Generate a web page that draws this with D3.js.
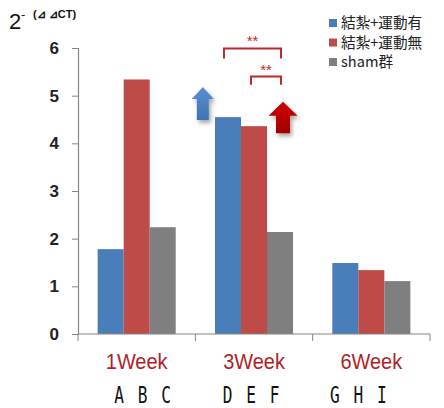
<!DOCTYPE html>
<html><head><meta charset="utf-8">
<script src="https://cdn.jsdelivr.net/npm/d3@7"></script>
<style>body{margin:0;background:#fff}svg{display:block}</style>
</head><body><svg id="c" width="444" height="408"></svg>
<script>
const categories = ["1Week", "3Week", "6Week"];
const seriesNames = ["結紮+運動有", "結紮+運動無", "sham群"];
const seriesColors = ["#4a7ebb", "#be4b48", "#7f7f7f"];
const blueVals = [1.78, 4.55, 1.49];
const redVals  = [5.34, 4.36, 1.34];
const grayVals = [2.24, 2.14, 1.11];
const barLetters = [["A","B","C"],["D","E","F"],["G","H","I"]];
const yTicks = [0, 1, 2, 3, 4, 5, 6];

const series = [blueVals, redVals, grayVals];
const svg = d3.select("#c");
const defs = svg.append("defs");
const f = defs.append("filter").attr("id","sh").attr("x","-50%").attr("y","-50%").attr("width","200%").attr("height","200%");
f.append("feDropShadow").attr("dx",2).attr("dy",3).attr("stdDeviation",2).attr("flood-color","#000").attr("flood-opacity",0.35);
const rg = defs.append("linearGradient").attr("id","rg").attr("x1",0).attr("x2",0).attr("y1",0).attr("y2",1);
rg.append("stop").attr("offset","0%").attr("stop-color","#d00000");
rg.append("stop").attr("offset","100%").attr("stop-color","#a00000");
const bg = defs.append("linearGradient").attr("id","bg").attr("x1",0).attr("x2",0).attr("y1",0).attr("y2",1);
bg.append("stop").attr("offset","0%").attr("stop-color","#5a8fd0");
bg.append("stop").attr("offset","100%").attr("stop-color","#3f73b3");

const x0 = d3.scaleBand().domain(categories).range([78, 430]).padding(0);
const x1 = d3.scaleBand().domain(d3.range(3)).range([0, x0.bandwidth()]).paddingInner(0).paddingOuter(0.755);
const y = d3.scaleLinear().domain([0, 6]).range([334, 48]);

// bars
categories.forEach((c, ci) => {
  series.forEach((s, si) => {
    svg.append("rect")
      .attr("x", x0(c) + x1(si))
      .attr("y", y(s[ci]))
      .attr("width", x1.bandwidth())
      .attr("height", y(0) - y(s[ci]))
      .attr("fill", seriesColors[si]);
  });
});

// y axis
const yAxis = svg.append("g").attr("transform","translate(78,0)")
  .call(d3.axisLeft(y).tickValues(yTicks).tickSize(6).tickPadding(13).tickFormat(d3.format("d")));
yAxis.select(".domain").attr("stroke","#868686").attr("stroke-width",1.2);
yAxis.selectAll(".tick line").attr("stroke","#868686");
yAxis.selectAll(".tick text").attr("fill","#222").attr("font-size","17px").attr("font-weight","bold")
  .attr("font-family","Liberation Sans, Arial, sans-serif");

// x axis
const xAxis = svg.append("g").attr("transform","translate(0,334)");
xAxis.append("line").attr("x1",78).attr("x2",430).attr("stroke","#868686").attr("stroke-width",1.2);
const bounds = categories.map(c => x0(c)).concat([x0(categories[2]) + x0.bandwidth()]);
xAxis.selectAll("line.t").data(bounds).enter().append("line").attr("class","t")
  .attr("x1", d=>d).attr("x2", d=>d).attr("y1",0).attr("y2",7).attr("stroke","#868686");

// category labels
svg.selectAll("text.cat").data(categories).enter().append("text").attr("class","cat")
  .attr("transform", d => `translate(${x0(d) + x0.bandwidth()/2},369) scale(0.95,1.05)`)
  .attr("text-anchor","middle").attr("fill","#b01e28")
  .attr("font-size","21px").attr("font-family","Liberation Sans, Arial, sans-serif")
  .text(d => d);

// letters
const shifts = [6, -3, -13];
categories.forEach((c, ci) => {
  const cx = x0(c) + x0.bandwidth()/2 + shifts[ci];
  barLetters[ci].forEach((L, li) => {
    const lx = cx + (li - 1) * 23.5;
    svg.append("text").attr("transform", `translate(${lx},403) scale(0.85,1.18)`)
      .attr("text-anchor","middle").attr("fill","#111")
      .attr("font-size","19px").attr("font-family","DejaVu Sans Mono, monospace")
      .text(L);
  });
});

// title
svg.append("text").attr("x", 9).attr("y", 29).attr("fill","#111")
  .attr("font-family","Liberation Sans, Arial, sans-serif")
  .attr("font-size","22px").text("2");
svg.append("text").attr("x", 21).attr("y", 19).attr("fill","#111")
  .attr("font-family","Liberation Sans, Arial, sans-serif")
  .attr("font-size","13px").text("-");
svg.append("text").attr("x", 33).attr("y", 18).attr("fill","#111")
  .attr("font-family","Liberation Sans, Arial, sans-serif").attr("font-weight","bold")
  .attr("font-size","11px").text("(⊿ ⊿CT)");

// legend
const leg = svg.append("g");
seriesNames.forEach((n, i) => {
  const ly = 23 + i * 19.5;
  leg.append("rect").attr("x",329).attr("y",ly-4).attr("width",8).attr("height",8).attr("fill",seriesColors[i]);
  leg.append("text").attr("transform", `translate(341,${ly+5}) scale(1.1,1.1)`).attr("fill","#222")
    .attr("font-size","13.3px").attr("font-family","Noto Sans CJK JP, sans-serif").text(n);
});

// arrows
function arrowPath(cx, tipY, baseY, headW, shaftW, headH) {
  return `M${cx},${tipY} L${cx+headW/2},${tipY+headH} L${cx+shaftW/2},${tipY+headH} L${cx+shaftW/2},${baseY} L${cx-shaftW/2},${baseY} L${cx-shaftW/2},${tipY+headH} L${cx-headW/2},${tipY+headH} Z`;
}
const g2 = x0("3Week");
svg.append("path").attr("d", arrowPath(g2 + 7.5, y(5.18), y(4.49), 22, 12, 12))
  .attr("fill","url(#bg)").attr("filter","url(#sh)");
svg.append("path").attr("d", arrowPath(g2 + x1(2) + x1.bandwidth()/2 + 3, y(4.87), y(4.21), 29, 14, 14))
  .attr("fill","url(#rg)").attr("filter","url(#sh)");

// significance brackets
const sigColor = "#c0272d";
function bracket(xa, xb, yTop, legBot) {
  svg.append("path").attr("d", `M${xa},${legBot} L${xa},${yTop} L${xb},${yTop} L${xb},${legBot}`)
    .attr("fill","none").attr("stroke",sigColor).attr("stroke-width",2);
  svg.append("text").attr("x",(xa+xb)/2).attr("y",yTop-2).attr("text-anchor","middle")
    .attr("fill",sigColor).attr("font-size","15px").attr("font-family","Liberation Sans, Arial, sans-serif")
    .text("**");
}
const cB = g2 + x1(0) + x1.bandwidth()/2, cR = g2 + x1(1) + x1.bandwidth()/2, cG = g2 + x1(2) + x1.bandwidth()/2;
bracket(cB - 4, cG + 1, y(5.99), y(5.78));
bracket(cR - 3, cG + 1, y(5.4), y(5.23));
</script></body></html>
